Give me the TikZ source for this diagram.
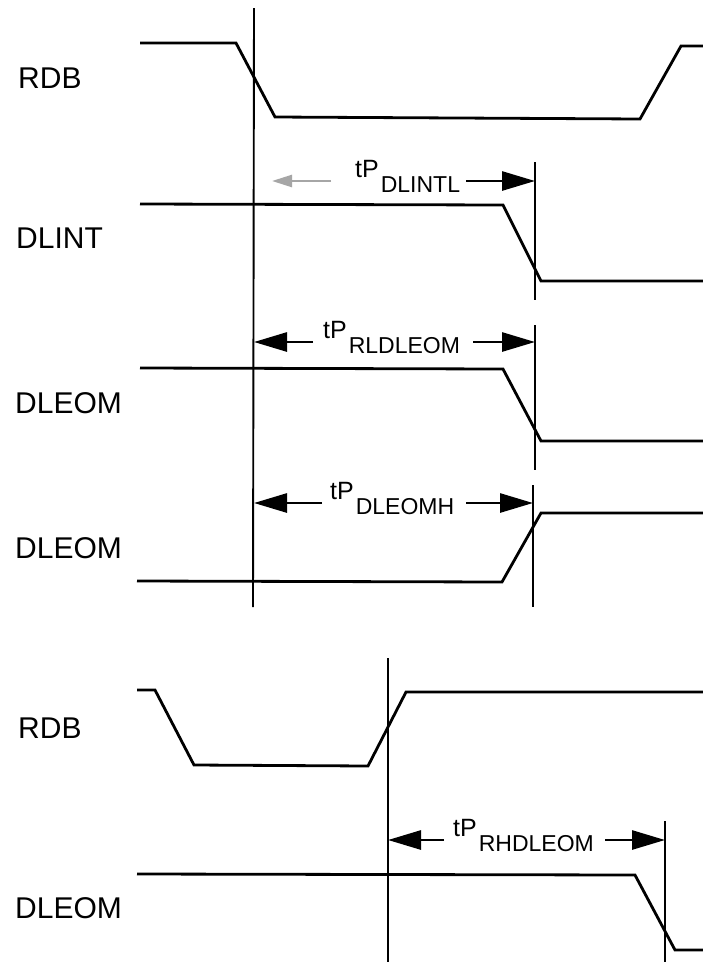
\documentclass[tikz,border=0pt]{standalone}
\usepackage{fontspec}
\setmainfont{Liberation Sans}
\usetikzlibrary{arrows.meta}
\newcommand\tpsub[1]{\hspace{2pt}\raisebox{-15pt}{\fontsize{23}{23}\selectfont #1}}
\begin{document}
\begin{tikzpicture}[x=1pt,y=-1pt,
  sig/.style={line width=2.8pt, line join=miter},
  vl/.style={line width=1.9pt},
  dim/.style={line width=2.8pt, -{Triangle[length=33pt,width=19pt]}},
  faint/.style={line width=2.4pt, -{Triangle[length=20pt,width=12pt]}, black!35},
  lab/.style={font=\fontsize{30}{30}\selectfont, anchor=west, inner sep=0pt},
  tp/.style={font=\fontsize{25}{25}\selectfont, anchor=base west, inner sep=0pt}]
\useasboundingbox (0,0) rectangle (703,962);
\fill[white] (0,0) rectangle (703,962);
% signal names
\node[lab] (l1) at (18,78) {RDB};
\node[lab] (l2) at (16,238) {DLINT};
\node[lab] (l3) at (15,403) {DLEOM};
\node[lab] (l4) at (15,548) {DLEOM};
\node[lab] (l5) at (18,728) {RDB};
\node[lab] (l6) at (15,908) {DLEOM};
% waveforms
\draw[sig] (140,43) -- (236,43) -- (275,117) -- (640,119) -- (681,46) -- (703,46);
\draw[sig] (140,204) -- (503,205) -- (541,281) -- (703,281);
\draw[sig] (140,368) -- (503,369) -- (541,441) -- (703,441);
\draw[sig] (137,581) -- (502,582) -- (541,513) -- (703,513);
\draw[sig] (137,690) -- (155,690) -- (194,765) -- (368,766) -- (406,692) -- (703,692);
\draw[sig] (137,874) -- (635,875) -- (675,950) -- (703,950);
% reference lines
\coordinate (v1t) at (254,8);   \coordinate (v1b) at (253,607);
\coordinate (v2t) at (535,162); \coordinate (v2b) at (535,300);
\coordinate (v3t) at (535,325); \coordinate (v3b) at (535,470);
\coordinate (v4t) at (533,485); \coordinate (v4b) at (533,607);
\coordinate (v5t) at (388,658); \coordinate (v5b) at (388,962);
\coordinate (v6t) at (665,821); \coordinate (v6b) at (665,962);
\foreach \v in {1,...,6} {\draw[vl] (v\v t) -- (v\v b);}
% timing labels
\node[tp] (t1) at (355,177) {tP\tpsub{DLINTL}};
\node[tp] (t2) at (323,338) {tP\tpsub{RLDLEOM}};
\node[tp] (t3) at (330,499) {tP\tpsub{DLEOMH}};
\node[tp] (t4) at (453,836) {tP\tpsub{RHDLEOM}};
% arrow end points
\coordinate (a1l) at (331,181); \coordinate (a1le) at (272,181);
\coordinate (a1r) at (466,181); \coordinate (a1re) at (535,181);
\coordinate (a2l) at (313,342); \coordinate (a2le) at (254,342);
\coordinate (a2r) at (473,342); \coordinate (a2re) at (535,342);
\coordinate (a3l) at (322,503); \coordinate (a3le) at (254,503);
\coordinate (a3r) at (466,503); \coordinate (a3re) at (533,503);
\coordinate (a4l) at (444,840); \coordinate (a4le) at (388,840);
\coordinate (a4r) at (605,840); \coordinate (a4re) at (665,840);
\draw[faint] (a1l) -- (a1le);
\draw[dim] (a1r) -- (a1re);
\draw[dim] (a2l) -- (a2le);
\draw[dim] (a2r) -- (a2re);
\draw[dim] (a3l) -- (a3le);
\draw[dim] (a3r) -- (a3re);
\draw[dim] (a4l) -- (a4le);
\draw[dim] (a4r) -- (a4re);
\end{tikzpicture}
\end{document}
